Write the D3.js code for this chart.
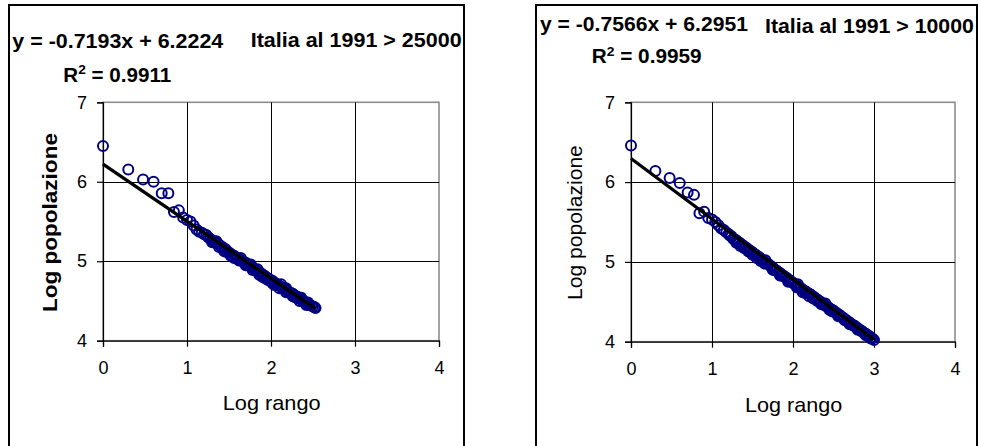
<!DOCTYPE html>
<html>
<head>
<meta charset="utf-8">
<script src="https://cdn.jsdelivr.net/npm/d3@7"></script>
<style>
  html, body { margin: 0; padding: 0; background: #fff; }
  svg { display: block; font-family: "Liberation Sans", Arial, sans-serif; }
</style>
</head>
<body>
<svg id="chart" width="981" height="446"></svg>
<script>
// Rank–size plots of Italian municipalities (1991), log10 rank vs log10 population.

const xTicks = [0, 1, 2, 3, 4];
const yTicks = [4, 5, 6, 7];

// Comuni above 25000 inhabitants
const leftLogRank = [
  0, 0.301, 0.477, 0.602, 0.699, 0.778, 0.845, 0.903, 0.954, 1.0,
  1.041, 1.079, 1.114, 1.146, 1.176, 1.204, 1.23, 1.255, 1.279, 1.301,
  1.32, 1.34, 1.36, 1.38, 1.40, 1.42, 1.44, 1.46, 1.48, 1.50,
  1.52, 1.54, 1.56, 1.58, 1.60, 1.62, 1.64, 1.66, 1.68, 1.70,
  1.72, 1.74, 1.76, 1.78, 1.80, 1.82, 1.84, 1.86, 1.88, 1.90,
  1.92, 1.94, 1.96, 1.98, 2.00, 2.02, 2.04, 2.06, 2.08, 2.10,
  2.12, 2.14, 2.16, 2.18, 2.20, 2.22, 2.24, 2.26, 2.28, 2.30,
  2.32, 2.34, 2.36, 2.38, 2.40, 2.42, 2.44, 2.46, 2.48, 2.50,
  2.52, 2.53,
  1.44, 1.56, 1.64, 1.76, 1.90, 2.04, 2.12, 2.28, 2.36,
  1.35, 1.52, 1.70, 1.84, 1.97, 2.18, 2.32, 2.44,
  1.30, 1.38, 1.46, 1.54, 1.62, 1.70, 1.78, 1.86, 1.94, 2.02,
  2.10, 2.18, 2.26, 2.34, 2.42
];
const leftLogPop = [
  6.45, 6.155, 6.03, 6.0, 5.855, 5.855, 5.62, 5.64, 5.55, 5.52,
  5.50, 5.45, 5.40, 5.37, 5.36, 5.34, 5.33, 5.30, 5.28, 5.26,
  5.25, 5.24, 5.22, 5.21, 5.19, 5.18, 5.16, 5.15, 5.12, 5.11,
  5.09, 5.08, 5.07, 5.05, 5.04, 5.03, 5.01, 5.00, 4.99, 4.98,
  4.96, 4.95, 4.93, 4.92, 4.90, 4.89, 4.87, 4.86, 4.85, 4.83,
  4.82, 4.80, 4.79, 4.77, 4.76, 4.75, 4.73, 4.72, 4.70, 4.69,
  4.68, 4.66, 4.65, 4.64, 4.62, 4.61, 4.60, 4.59, 4.57, 4.56,
  4.55, 4.53, 4.52, 4.50, 4.49, 4.48, 4.46, 4.45, 4.44, 4.43,
  4.42, 4.41,
  5.13, 5.04, 5.04, 4.96, 4.80, 4.70, 4.71, 4.55, 4.54,
  5.25, 5.07, 4.96, 4.90, 4.76, 4.66, 4.53, 4.48,
  5.24, 5.18, 5.12, 5.07, 5.01, 4.95, 4.89, 4.83, 4.78, 4.72,
  4.66, 4.61, 4.56, 4.50, 4.45
];
const leftSlope = -0.7193;
const leftIntercept = 6.2224;
const leftR2 = "0.9911";

// Comuni above 10000 inhabitants
const rightLogRank = [
  0, 0.301, 0.477, 0.602, 0.699, 0.778, 0.845, 0.903, 0.954, 1.0,
  1.041, 1.079, 1.114, 1.146, 1.176, 1.204,
  1.22, 1.24, 1.26, 1.28, 1.30, 1.32, 1.34, 1.36, 1.38, 1.40,
  1.42, 1.44, 1.46, 1.48, 1.50, 1.52, 1.54, 1.56, 1.58, 1.60,
  1.62, 1.64, 1.66, 1.68, 1.70, 1.72, 1.74, 1.76, 1.78, 1.80,
  1.82, 1.84, 1.86, 1.88, 1.90, 1.92, 1.94, 1.96, 1.98, 2.00,
  2.02, 2.04, 2.06, 2.08, 2.10, 2.12, 2.14, 2.16, 2.18, 2.20,
  2.22, 2.24, 2.26, 2.28, 2.30, 2.32, 2.34, 2.36, 2.38, 2.40,
  2.42, 2.44, 2.46, 2.48, 2.50, 2.52, 2.54, 2.56, 2.58, 2.60,
  2.62, 2.64, 2.66, 2.68, 2.70, 2.72, 2.74, 2.76, 2.78, 2.80,
  2.82, 2.84, 2.86, 2.88, 2.90, 2.92, 2.94, 2.96, 2.98, 3.00,
  1.30, 1.50, 1.66, 1.84, 2.06, 2.20, 2.40, 2.56, 2.70, 2.90,
  1.40, 1.60, 1.76, 1.94, 2.12, 2.30, 2.48, 2.64, 2.80, 2.96,
  1.35, 1.45, 1.55, 1.65, 1.75, 1.85, 1.95, 2.05, 2.15, 2.25,
  2.35, 2.45, 2.55, 2.65, 2.75, 2.85
];
const rightLogPop = [
  6.46, 6.14, 6.05, 5.99, 5.87, 5.84, 5.61, 5.63, 5.55, 5.53,
  5.50, 5.46, 5.42, 5.40, 5.37, 5.35,
  5.33, 5.32, 5.29, 5.28, 5.27, 5.25, 5.24, 5.22, 5.21, 5.19,
  5.18, 5.16, 5.15, 5.13, 5.12, 5.10, 5.09, 5.07, 5.06, 5.04,
  5.02, 5.01, 4.99, 4.98, 4.97, 4.95, 4.94, 4.92, 4.90, 4.89,
  4.87, 4.86, 4.84, 4.83, 4.81, 4.80, 4.78, 4.77, 4.75, 4.74,
  4.72, 4.71, 4.69, 4.68, 4.67, 4.65, 4.64, 4.63, 4.61, 4.60,
  4.59, 4.57, 4.56, 4.54, 4.53, 4.51, 4.50, 4.48, 4.47, 4.45,
  4.44, 4.43, 4.41, 4.40, 4.39, 4.37, 4.36, 4.34, 4.33, 4.31,
  4.30, 4.28, 4.27, 4.25, 4.24, 4.22, 4.21, 4.20, 4.18, 4.17,
  4.15, 4.14, 4.12, 4.11, 4.10, 4.08, 4.07, 4.05, 4.04, 4.02,
  5.24, 5.09, 5.02, 4.83, 4.72, 4.57, 4.48, 4.32, 4.22, 4.08,
  5.17, 5.01, 4.90, 4.75, 4.62, 4.51, 4.38, 4.27, 4.15, 4.04,
  5.20, 5.13, 5.05, 4.98, 4.90, 4.83, 4.76, 4.68, 4.61, 4.54,
  4.47, 4.40, 4.34, 4.27, 4.20, 4.13
];
const rightSlope = -0.7566;
const rightIntercept = 6.2951;
const rightR2 = "0.9959";

const panels = [
  {
    frame: { x: 9, y: 5, w: 455, h: 470 },
    plot: { left: 103, right: 439, top: 102.3, bottom: 340.7 },
    rank: leftLogRank, pop: leftLogPop,
    slope: leftSlope, intercept: leftIntercept, r2: leftR2,
    title: "Italia al 1991 > 25000",
    eqPos: { x: 12.3, y: 47.7, w: 211 },
    titlePos: { x: 250.7, y: 46.7, w: 211 },
    r2Pos: { x: 63.3, y: 81.6, w: 108 },
    xTitle: { cx: 271.7, y: 410, w: 98 },
    yTitle: { x: 57, cy: 222.5, len: 179, bold: true, size: 19.5 }
  },
  {
    frame: { x: 536, y: 5, w: 441, h: 470 },
    plot: { left: 631, right: 955, top: 102.3, bottom: 341.7 },
    rank: rightLogRank, pop: rightLogPop,
    slope: rightSlope, intercept: rightIntercept, r2: rightR2,
    title: "Italia al 1991 > 10000",
    eqPos: { x: 540, y: 30.7, w: 208 },
    titlePos: { x: 765, y: 32.6, w: 209 },
    r2Pos: { x: 591.7, y: 63.3, w: 110 },
    xTitle: { cx: 793.7, y: 411.7, w: 97.3 },
    yTitle: { x: 582, cy: 222.5, len: 155, bold: false, size: 20 }
  }
];

const svg = d3.select("#chart");

// Place a text so that its rendered width equals `w`, left edge (or centre) at x.
function fitText(sel, x, y, w, anchor) {
  const len = sel.node().getComputedTextLength();
  const s = w / len;
  const dx = anchor === "middle" ? -w / 2 : 0;
  sel.attr("transform", `translate(${x + dx},${y}) scale(${s},1)`);
}

panels.forEach(p => {
  const g = svg.append("g");

  // outer chart frame
  g.append("rect")
    .attr("x", p.frame.x).attr("y", p.frame.y)
    .attr("width", p.frame.w).attr("height", p.frame.h)
    .attr("fill", "#fff").attr("stroke", "#000").attr("stroke-width", 2);

  const x = d3.scaleLinear().domain([0, 4]).range([p.plot.left, p.plot.right]);
  const y = d3.scaleLinear().domain([4, 7]).range([p.plot.bottom, p.plot.top]);

  // plot area border (grey)
  g.append("rect")
    .attr("x", x(0)).attr("y", y(7))
    .attr("width", x(4) - x(0)).attr("height", y(4) - y(7))
    .attr("fill", "#fff").attr("stroke", "#8c8c8c").attr("stroke-width", 1.6);

  // gridlines
  g.append("g").selectAll("line").data(xTicks.filter(d => d > 0 && d < 4)).join("line")
    .attr("x1", d => Math.round(x(d)) + 0.5).attr("x2", d => Math.round(x(d)) + 0.5)
    .attr("y1", y(7)).attr("y2", y(4))
    .attr("stroke", "#000").attr("stroke-width", 1);
  g.append("g").selectAll("line").data(yTicks.filter(d => d > 4 && d < 7)).join("line")
    .attr("y1", d => Math.round(y(d)) + 0.5).attr("y2", d => Math.round(y(d)) + 0.5)
    .attr("x1", x(0)).attr("x2", x(4))
    .attr("stroke", "#000").attr("stroke-width", 1);

  // axes
  const fmt = d3.format("d");
  const ax = g.append("g").attr("transform", `translate(0,${y(4)})`)
    .call(d3.axisBottom(x).tickValues(xTicks).tickFormat(fmt).tickSize(6).tickSizeOuter(6).tickPadding(15));
  const ay = g.append("g").attr("transform", `translate(${x(0)},0)`)
    .call(d3.axisLeft(y).tickValues(yTicks).tickFormat(fmt).tickSize(6).tickSizeOuter(6).tickPadding(10));
  [ax, ay].forEach(a => {
    a.selectAll("path,line").attr("stroke", "#000").attr("stroke-width", 1.2);
    a.selectAll("text").attr("font-family", "Liberation Sans, Arial, sans-serif")
      .attr("font-size", 18).attr("fill", "#000");
  });

  // data markers
  g.append("g").selectAll("circle").data(p.rank.map((r, i) => [r, p.pop[i]])).join("circle")
    .attr("cx", d => x(d[0])).attr("cy", d => y(d[1])).attr("r", 5)
    .attr("fill", "none").attr("stroke", "#000080").attr("stroke-width", 2);

  // linear trend line from the fitted equation
  const xMax = d3.max(p.rank);
  g.append("line")
    .attr("x1", x(0)).attr("y1", y(p.intercept))
    .attr("x2", x(xMax)).attr("y2", y(p.intercept + p.slope * xMax))
    .attr("stroke", "#000").attr("stroke-width", 3.3);

  // equation, R² and title
  const eq = g.append("text").attr("font-size", 19.5).attr("font-weight", "bold")
    .text(`y = ${p.slope.toFixed(4)}x + ${p.intercept.toFixed(4)}`);
  fitText(eq, p.eqPos.x, p.eqPos.y, p.eqPos.w);

  const ti = g.append("text").attr("font-size", 19.5).attr("font-weight", "bold").text(p.title);
  fitText(ti, p.titlePos.x, p.titlePos.y, p.titlePos.w);

  const r2 = g.append("text").attr("font-size", 19.5).attr("font-weight", "bold");
  r2.append("tspan").text("R");
  r2.append("tspan").attr("font-size", 13).attr("dy", -7.5).text("2");
  r2.append("tspan").attr("dy", 7.5).text(` = ${p.r2}`);
  fitText(r2, p.r2Pos.x, p.r2Pos.y, p.r2Pos.w);

  // axis titles
  const xt = g.append("text").attr("font-size", 20).text("Log rango");
  fitText(xt, p.xTitle.cx, p.xTitle.y, p.xTitle.w, "middle");

  const yt = g.append("text").attr("font-size", p.yTitle.size)
    .attr("font-weight", p.yTitle.bold ? "bold" : "normal").text("Log popolazione");
  const ylen = yt.node().getComputedTextLength();
  const ys = p.yTitle.len / ylen;
  yt.attr("transform",
    `translate(${p.yTitle.x},${p.yTitle.cy + p.yTitle.len / 2}) rotate(-90) scale(${ys},1)`);
});
</script>
</body>
</html>
